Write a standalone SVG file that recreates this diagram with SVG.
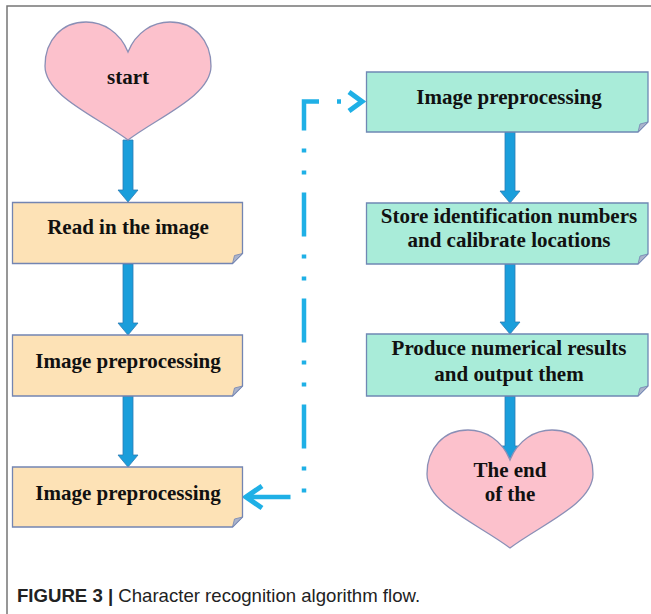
<svg xmlns="http://www.w3.org/2000/svg" width="651" height="614" viewBox="0 0 651 614">
<defs>
<style>
.frame{stroke:#767676;stroke-width:1.5;fill:none}
.boxL{fill:#fde2b6;stroke:#7385b2;stroke-width:1.3}
.boxR{fill:#a9ecd9;stroke:#6f88b4;stroke-width:1.3}
.fold{fill:#aab3cb;stroke:#7385b2;stroke-width:0.8}
.heart{fill:#fcc1cc;stroke:#8a8fb6;stroke-width:1.3}
.t{font-family:"Liberation Serif","Times New Roman",serif;font-weight:bold;font-size:21px;fill:#111;text-anchor:middle}
.arr{fill:#1a9edb;stroke:#2c7cb5;stroke-width:0.8}
.dash{fill:none;stroke:#1fb0e6;stroke-width:4.5;stroke-dasharray:4 18 44 18 4 18}
.chev{fill:none;stroke:#1fb0e6;stroke-width:5}
.cap{font-family:"Liberation Sans",Arial,sans-serif;font-size:18.6px;fill:#222}
</style>
<path id="heartShape" d="M0 30 C-8 10 -25 0 -42 0 C-66 0 -83 18 -83 44 C-83 74 -30 95 0 118 C30 95 83 74 83 44 C83 18 66 0 42 0 C25 0 8 10 0 30 Z"/>
</defs>
<rect width="651" height="614" fill="#ffffff"/>
<path class="frame" d="M7 614 V6 H651"/>

<g id="connectors">
<path class="arr" d="M123 140 H133 V190 H138 L128 202 L118 190 H123 Z"/>
<path class="arr" d="M123 264 H133 V323 H138 L128 335 L118 323 H123 Z"/>
<path class="arr" d="M123 396 H133 V455 H138 L128 467 L118 455 H123 Z"/>
<path class="arr" d="M505 132 H515 V191 H520 L510 203 L500 191 H505 Z"/>
<path class="arr" d="M505 264 H515 V322 H520 L510 334 L500 322 H505 Z"/>
<path class="arr" d="M505 396 H515 V446 H520 L510 458 L500 446 H505 Z"/>
<path class="dash" d="M341 101.5 H304 V497 H248"/>
<polyline class="chev" points="349,92 362,101.5 349,111"/>
<polyline class="chev" points="262,486 246,497 262,508"/>
</g>

<g id="start">
<use href="#heartShape" class="heart" transform="translate(128,22)"/>
<text class="t" x="128" y="84">start</text>
</g>

<g id="read">
<path class="boxL" d="M12.5 202.5 H242.5 V253.5 L232.5 263.5 H12.5 Z"/>
<polygon class="fold" points="242.5,253.5 232.5,263.5 234.5,255.5"/>
<text class="t" x="128" y="234">Read in the image</text>
</g>

<g id="pre1">
<path class="boxL" d="M12.5 335 H242.5 V386 L232.5 396 H12.5 Z"/>
<polygon class="fold" points="242.5,386 232.5,396 234.5,388"/>
<text class="t" x="128" y="368">Image preprocessing</text>
</g>

<g id="pre2">
<path class="boxL" d="M12.5 467 H242.5 V517 L232.5 527 H12.5 Z"/>
<polygon class="fold" points="242.5,517 232.5,527 234.5,519"/>
<text class="t" x="128" y="500">Image preprocessing</text>
</g>

<g id="pre3">
<path class="boxR" d="M366.5 72 H648 V122 L638 132 H366.5 Z"/>
<polygon class="fold" points="648,122 638,132 640,124"/>
<text class="t" x="509" y="104">Image preprocessing</text>
</g>

<g id="store">
<path class="boxR" d="M366.5 203 H648 V254 L638 264 H366.5 Z"/>
<polygon class="fold" points="648,254 638,264 640,256"/>
<text class="t" x="509" y="223">Store identification numbers</text>
<text class="t" x="509" y="247">and calibrate locations</text>
</g>

<g id="produce">
<path class="boxR" d="M366.5 334 H648 V386 L638 396 H366.5 Z"/>
<polygon class="fold" points="648,386 638,396 640,388"/>
<text class="t" x="509" y="355">Produce numerical results</text>
<text class="t" x="509" y="381">and output them</text>
</g>

<g id="end">
<use href="#heartShape" class="heart" transform="translate(510,430)"/>
<text class="t" x="510" y="477">The end</text>
<text class="t" x="510" y="501">of the</text>
</g>

<text class="cap" x="17" y="602"><tspan font-weight="bold">FIGURE 3 |</tspan> Character recognition algorithm flow.</text>
</svg>
